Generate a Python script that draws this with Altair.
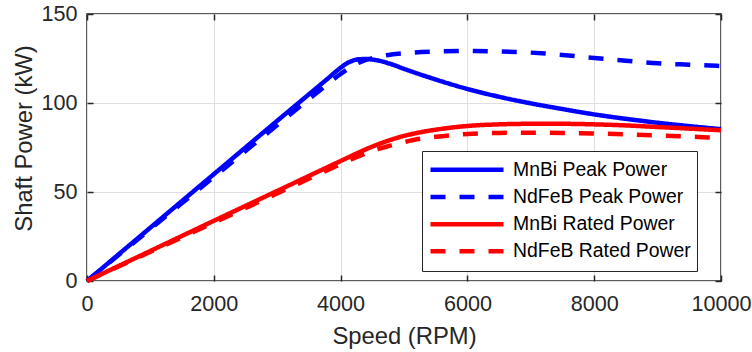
import altair as alt
import pandas as pd

# ---------------- data ----------------
series_names = ["MnBi Peak Power", "NdFeB Peak Power", "MnBi Rated Power", "NdFeB Rated Power"]

speed_mnbi_peak = [0, 1000, 2000, 3000, 3800, 4000, 4100, 4200, 4300, 4400, 4500, 4600,
                   4800, 5000, 5500, 6000, 6500, 7000, 7500, 8000, 8500, 9000, 9500, 10000]
power_mnbi_peak = [0, 30, 60, 90, 113.8, 119.8, 122.3, 123.9, 124.6, 124.7, 124.4, 123.8,
                   121.8, 119.2, 113.2, 107.9, 103.5, 99.8, 96.6, 93.6, 91.1, 88.9, 87, 85.3]

speed_ndfeb_peak = [0, 1000, 2000, 3000, 3600, 4000, 4200, 4400, 4600, 4800, 5000, 5500,
                    6000, 6500, 7000, 7500, 8000, 8500, 9000, 9500, 10000]
power_ndfeb_peak = [0, 29.2, 58.4, 87.6, 105, 116.3, 121, 124.2, 126, 127.3, 128, 128.9,
                    129.2, 129, 128.3, 127, 125.3, 123.8, 122.3, 121.5, 120.8]

speed_mnbi_rated = [0, 1000, 2000, 3000, 4000, 4400, 4600, 4800, 5000, 5250, 5500, 6000,
                    6500, 7000, 7500, 8000, 8500, 9000, 9500, 10000]
power_mnbi_rated = [0, 16.9, 33.8, 50.6, 67.4, 74, 76.9, 79.4, 81.5, 83.5, 85, 87.1,
                    88, 88.3, 88.3, 88, 87.4, 86.5, 85.6, 84.7]

speed_ndfeb_rated = [0, 1000, 2000, 3000, 4000, 4400, 4600, 4800, 5000, 5200, 5500, 6000,
                     6500, 7000, 7500, 8000, 8500, 9000, 9500, 10000]
power_ndfeb_rated = [0, 16.4, 32.8, 49.2, 65.6, 71.8, 74.3, 76.2, 78, 79.6, 81, 82.6,
                     83.2, 83.3, 83.2, 82.9, 82.4, 81.8, 81.1, 80.4]

x_ticks = [0, 2000, 4000, 6000, 8000, 10000]
y_ticks = [0, 50, 100, 150]

series_colors = ["#0000ff", "#0000ff", "#ff0000", "#ff0000"]
series_dashes = [[1, 0], [15, 14], [1, 0], [15, 14]]

# ---------------- table ----------------
frames = []
for i, (name, sx, sy) in enumerate([
    (series_names[0], speed_mnbi_peak, power_mnbi_peak),
    (series_names[1], speed_ndfeb_peak, power_ndfeb_peak),
    (series_names[2], speed_mnbi_rated, power_mnbi_rated),
    (series_names[3], speed_ndfeb_rated, power_ndfeb_rated),
]):
    frames.append(pd.DataFrame({"speed": sx, "power": sy, "series": name, "k": i}))
df = pd.concat(frames, ignore_index=True)

FONT = "Liberation Sans"
TXT = "#262626"

x_scale = alt.Scale(domain=[0, 10000], nice=False, zero=False)
y_scale = alt.Scale(domain=[0, 150], nice=False, zero=False)

legend = alt.Legend(
    orient="none", legendX=335, legendY=137, title=None,
    fillColor="white", strokeColor=TXT, padding=6,
    symbolType="stroke", symbolSize=5329, symbolStrokeWidth=4.5,
    labelFont=FONT, labelFontSize=19.4, labelColor="#000000",
    labelOffset=7, clipHeight=25.5, rowPadding=1.2, labelLimit=400,
)

lines = alt.Chart(df).mark_line(strokeWidth=4.5, interpolate="monotone", strokeJoin="round").encode(
    x=alt.X("speed:Q", scale=x_scale, axis=alt.Axis(
        orient="bottom", values=x_ticks, title="Speed (RPM)", grid=True, gridColor="#dfdfdf",
        gridWidth=1, ticks=False, domain=False, labelFont=FONT, labelFontSize=21.6,
        labelColor=TXT, labelPadding=12, labelOverlap=False, labelFlush=False, format="d",
        titleFont=FONT, titleFontSize=23.8, titleFontWeight="normal", titleColor=TXT,
        titleY=62, titleBaseline="alphabetic")),
    y=alt.Y("power:Q", scale=y_scale, axis=alt.Axis(
        orient="left", values=y_ticks, title="Shaft Power (kW)", grid=True, gridColor="#dfdfdf",
        gridWidth=1, ticks=False, domain=False, labelFont=FONT, labelFontSize=21.6,
        labelColor=TXT, labelPadding=10, labelOverlap=False, labelFlush=False,
        titleFont=FONT, titleFontSize=23.8, titleFontWeight="normal", titleColor=TXT,
        titleX=-56, titleY=124, titleAngle=270, titleAlign="center", titleBaseline="alphabetic")),
    color=alt.Color("series:N", scale=alt.Scale(domain=series_names, range=series_colors), legend=legend),
    strokeDash=alt.StrokeDash("series:N", scale=alt.Scale(domain=series_names, range=series_dashes), legend=legend),
    order=alt.Order("k:Q"),
)

def tick_layer(xorient, yorient):
    return alt.Chart(df).mark_point(opacity=0, size=1).encode(
        x=alt.X("speed:Q", scale=x_scale, axis=alt.Axis(
            orient=xorient, values=x_ticks, labels=False, ticks=True, tickSize=6,
            tickColor=TXT, tickWidth=1.5, offset=-6, domain=False, grid=False, title=None)),
        y=alt.Y("power:Q", scale=y_scale, axis=alt.Axis(
            orient=yorient, values=y_ticks, labels=False, ticks=True, tickSize=6,
            tickColor=TXT, tickWidth=1.5, offset=-6, domain=False, grid=False, title=None)),
    )

chart = alt.layer(lines, tick_layer("bottom", "left"), tick_layer("top", "right")).resolve_axis(
    x="independent", y="independent"
).properties(
    width=634, height=267,
    padding={"left": 87, "top": 14, "right": 31, "bottom": 71},
    autosize=alt.AutoSizeParams(type="none"),
    background="white",
).configure_view(stroke=TXT, strokeWidth=1.5)

chart.save("out.html", embed_options={"renderer": "svg", "actions": False})
